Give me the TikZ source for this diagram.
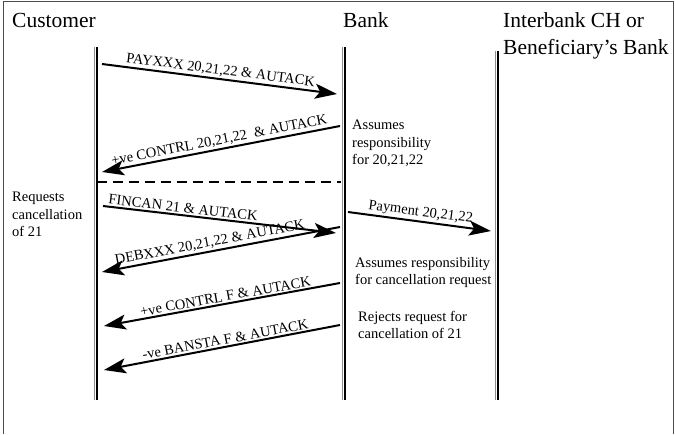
\documentclass[tikz,border=0pt]{standalone}
\usepackage{fontspec}
\setmainfont{Liberation Serif}
\usetikzlibrary{arrows.meta}
\tikzset{
    HD/.style ={anchor=base west, inner sep=0pt, font=\fontsize{21.5}{27}\selectfont},
    NT/.style ={anchor=north west, inner sep=0pt, align=left, font=\fontsize{14.5}{17.5}\selectfont},
    LL/.style ={draw=black, line width=1.2pt, preaction={draw=black!45, line width=1pt, transform canvas={xshift=-2.3pt}}},
    MS/.style ={draw, line width=2pt, -{Stealth[length=22pt,width=15pt,inset=5pt]}},
    SU/.style ={sloped, above, inner sep=1.5pt, font=\fontsize{14.5}{17.5}\selectfont}}
\begin{document}
\begin{tikzpicture}[x=1pt,y=-1pt]
        \useasboundingbox (0,0) rectangle (675,434);
        \draw[line width=0.8pt, black!70] (3,434) -- (3,1) -- (673,1) -- (673,434);
        % headers
        \node[HD] (C) at(12,27){Customer};
        \node[HD] (B) at(343,27){Bank};
        \node[HD] (I1) at(503,27){Interbank CH or};
        \node[HD] (I2) at(503,54){Beneficiary’s Bank};
        % lifelines
        \coordinate (C1) at(97,47);  \coordinate (C2) at(97,400);
        \coordinate (B1) at(345,47); \coordinate (B2) at(345,400);
        \coordinate (I3) at(498,51); \coordinate (I4) at(498,400);
        \draw[LL] (C1) -- (C2);
        \draw[LL] (B1) -- (B2);
        \draw[LL] (I3) -- (I4);
        % notes
        \node[NT] (N1) at(352,120){Assumes\\responsibility\\for 20,21,22};
        \node[NT] (N2) at(12,192){Requests\\cancellation\\of 21};
        \node[NT] (N3) at(355,257){Assumes responsibility\\for cancellation request};
        \node[NT] (N4) at(358,311){Rejects request for\\cancellation of 21};
        % messages
        \coordinate (s1) at(102,64);  \coordinate (e1) at(337,94);
        \coordinate (s2) at(340,126); \coordinate (e2) at(102,172);
        \coordinate (s3) at(103,206); \coordinate (e3) at(336,233);
        \coordinate (s4) at(340,227); \coordinate (e4) at(102,272);
        \coordinate (s5) at(348,212); \coordinate (e5) at(491,231);
        \coordinate (s6) at(340,283); \coordinate (e6) at(104,326);
        \coordinate (s7) at(340,325); \coordinate (e7) at(104,370);
        \coordinate (d1) at(97,182);  \coordinate (d2) at(341,182);
        \draw[MS] (s1) --(e1) node[SU,pos=0.5]{PAYXXX 20,21,22 \& AUTACK};
        \draw[MS] (s2) --(e2) node[SU,pos=0.5]{+ve CONTRL 20,21,22\ \ \& AUTACK};
        \draw[line width=2.6pt, dash pattern=on 10pt off 6pt] (d1) --(d2);
        \draw[MS] (s3) --(e3) node[SU,pos=0.34]{FINCAN 21 \& AUTACK};
        \draw[MS] (s4) --(e4) node[SU,pos=0.54]{DEBXXX 20,21,22 \& AUTACK};
        \draw[MS] (s5) --(e5) node[SU,pos=0.5]{Payment 20,21,22};
        \draw[MS] (s6) --(e6) node[SU,pos=0.48]{+ve CONTRL F \& AUTACK};
        \draw[MS] (s7) --(e7) node[SU,pos=0.48]{-ve BANSTA F \& AUTACK};
    \end{tikzpicture}
\end{document}
